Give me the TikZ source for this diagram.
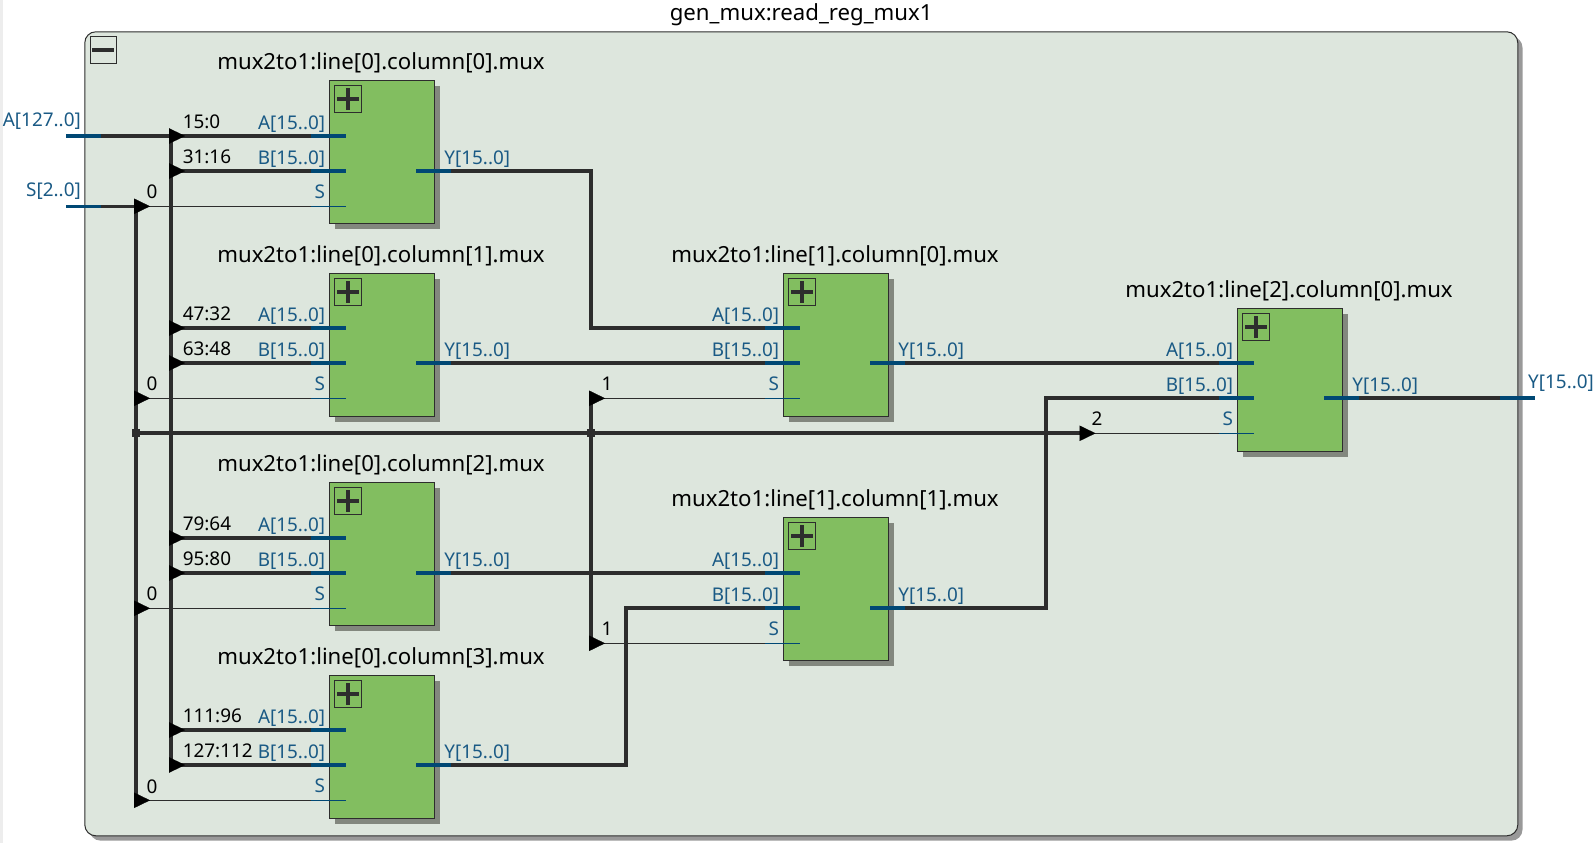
\documentclass[tikz,border=0pt]{standalone}
\usepackage{fontspec}
\setmainfont{Noto Sans}
\usetikzlibrary{arrows.meta}
\definecolor{framefill}{HTML}{DDE6DD}
\definecolor{frameshade}{HTML}{999999}
\definecolor{boxfill}{HTML}{82BE60}
\definecolor{boxshade}{HTML}{82877E}
\definecolor{wirecol}{HTML}{2D2D2D}
\definecolor{portcol}{HTML}{004874}
\definecolor{labelcol}{HTML}{1A5A85}
\begin{document}
\begin{tikzpicture}[x=1pt,y=-1pt,>=stealth]
 \tikzstyle{frameshape} = [draw=wirecol,line width=1pt,fill=framefill,rounded corners=11pt,minimum width=1433pt,minimum height=804pt,anchor=north west,inner sep=0]
 \tikzstyle{frameshadow} = [frameshape,draw=none,fill=frameshade,outer sep=0]
 \tikzstyle{muxbody} = [draw=wirecol,line width=1pt,fill=boxfill,minimum width=104.4pt,minimum height=142.4pt,anchor=north west,inner sep=0]
 \tikzstyle{muxshadow} = [muxbody,draw=none,fill=boxshade,minimum width=105.4pt,minimum height=143.4pt,outer sep=0]
 \tikzstyle{iconbox} = [draw=wirecol,line width=1pt,minimum size=26.4pt,anchor=north west,inner sep=0]
 \tikzstyle{iconbar} = [draw=wirecol,line width=4pt]
 \tikzstyle{bus} = [draw=wirecol,line width=3.6pt]
 \tikzstyle{sig} = [draw=wirecol,line width=1pt]
 \tikzstyle{busstub} = [draw=portcol,line width=3.6pt]
 \tikzstyle{sigstub} = [draw=portcol,line width=1pt]
 \tikzstyle{tap} = [draw=black,line width=0.2pt,-{Triangle[length=16pt,width=15.5pt,fill=black]}]
 \tikzstyle{junction} = [fill=wirecol,minimum size=8pt,inner sep=0]
 \tikzstyle{blocktitle} = [text=black,font=\fontsize{22.2}{26}\selectfont,anchor=base,inner sep=0]
 \tikzstyle{portleft} = [text=labelcol,font=\fontsize{18.9}{22}\selectfont,anchor=base east,inner sep=0]
 \tikzstyle{portright} = [text=labelcol,font=\fontsize{18.9}{22}\selectfont,anchor=base west,inner sep=0]
 \tikzstyle{bitrange} = [text=black,font=\fontsize{18.9}{22}\selectfont,anchor=base west,inner sep=0]
 % name, left, top, y of port A, title
 \newcommand{\muxblock}[5]{
  \node[muxshadow] (#1-sh) at (#2+5.3,#3+5.3) {};
  \node[muxbody] (#1) at (#2,#3) {};
  \node[iconbox] (#1-ic) at (#2+5,#3+5) {};
  \draw[iconbar] (#2+7.7,#3+18.7) -- (#2+29.7,#3+18.7);
  \draw[iconbar] (#2+18.7,#3+7.7) -- (#2+18.7,#3+29.7);
  \node[blocktitle] (#1-t) at (#2+51.7,#3-10.9) {mux2to1:#5.mux};
  % Ports
  \coordinate (#1-A) at (#2-18,#4);
  \coordinate (#1-B) at (#2-18,#4+35);
  \coordinate (#1-S) at (#2-18,#4+70.3);
  \coordinate (#1-Y) at (#2+121.6,#4+35);
  \node[portleft] (#1-Al) at (#2-4,#4-6.6) {A[15..0]};
  \node[portleft] (#1-Bl) at (#2-4,#4+28.4) {B[15..0]};
  \node[portleft] (#1-Sl) at (#2-4,#4+62) {S};
  \node[portright] (#1-Yl) at (#2+114.9,#4+28.4) {Y[15..0]};
 }
 \newcommand{\muxstubs}[1]{
  \draw[busstub] (#1-A) -- ++(35,0);
  \draw[busstub] (#1-B) -- ++(35,0);
  \draw[sigstub] (#1-S) -- ++(35,0);
  \draw[busstub] (#1-Y) -- ++(-35,0);
 }

 \useasboundingbox (0,0) rectangle (1596,843);
 \fill[black!7] (0,0) rectangle (3,843);
 \node[frameshadow] (frame-sh) at (89.5,36.6) {};
 \node[frameshape] (frame) at (84.3,31.3) {};
 \node[iconbox] (frame-ic) at (89.5,36.3) {};
 \draw[iconbar] (92.2,50) -- (114.2,50);
 \node[blocktitle] (frame-t) at (801.2,20.5) {gen\_mux:read\_reg\_mux1};

 \muxblock{lzcz}{329.3}{80.3}{136}{line[0].column[0]}
 \muxblock{lzco}{329.3}{273.3}{328}{line[0].column[1]}
 \muxblock{lzct}{329.3}{482.3}{538}{line[0].column[2]}
 \muxblock{lzcd}{329.3}{675.3}{730}{line[0].column[3]}
 \muxblock{locz}{783.3}{273.3}{328}{line[1].column[0]}
 \muxblock{loco}{783.3}{517.3}{573}{line[1].column[1]}
 \muxblock{ltcz}{1237.3}{308.3}{363}{line[2].column[0]}

 % Top level pins
 \coordinate (inA) at (66,136);
 \coordinate (inS) at (66,206.3);
 \coordinate (outY) at (1500,398);
 \coordinate (busA) at (171,136);
 \coordinate (busS) at (136,206.3);
 \coordinate (selbus) at (136,433);
 \coordinate (selo) at (591,433);
 \coordinate (selt) at (1079.5,433);
 \coordinate (bendz) at (591,171);
 \coordinate (bendo) at (626,608);
 \coordinate (bendt) at (1046,398);

 % Data buses
 \draw[bus] (inA) -- (lzcz-A);
 \draw[bus] (busA) -- (busA |- lzcd-B);
 \draw[bus] (busA |- lzcz-B) -- (lzcz-B);
 \draw[bus] (busA |- lzco-A) -- (lzco-A);
 \draw[bus] (busA |- lzco-B) -- (lzco-B);
 \draw[bus] (busA |- lzct-A) -- (lzct-A);
 \draw[bus] (busA |- lzct-B) -- (lzct-B);
 \draw[bus] (busA |- lzcd-A) -- (lzcd-A);
 \draw[bus] (busA |- lzcd-B) -- (lzcd-B);
 \draw[bus] (lzcz-Y) -| (bendz |- locz-A) -- (locz-A);
 \draw[bus] (lzco-Y) -- (locz-B);
 \draw[bus] (locz-Y) -- (ltcz-A);
 \draw[bus] (lzct-Y) -- (loco-A);
 \draw[bus] (lzcd-Y) -| (bendo |- loco-B) -- (loco-B);
 \draw[bus] (loco-Y) -| (bendt |- ltcz-B) -- (ltcz-B);
 \draw[bus] (ltcz-Y) -- (outY);

 % Select lines
 \draw[bus] (inS) -- (busS);
 \draw[bus] (busS) -- (busS |- lzcd-S);
 \draw[bus] (selbus) -- (selt);
 \draw[bus] (selo |- locz-S) -- (selo |- loco-S);
 \draw[sig] (busS |- lzcz-S) -- (lzcz-S);
 \draw[sig] (busS |- lzco-S) -- (lzco-S);
 \draw[sig] (busS |- lzct-S) -- (lzct-S);
 \draw[sig] (busS |- lzcd-S) -- (lzcd-S);
 \draw[sig] (selo |- locz-S) -- (locz-S);
 \draw[sig] (selo |- loco-S) -- (loco-S);
 \draw[sig] (selt |- ltcz-S) -- (ltcz-S);
 \node[junction] (jz) at (selbus) {};
 \node[junction] (jo) at (selo) {};

 % Port stubs
 \muxstubs{lzcz}
 \muxstubs{lzco}
 \muxstubs{lzct}
 \muxstubs{lzcd}
 \muxstubs{locz}
 \muxstubs{loco}
 \muxstubs{ltcz}
 \draw[busstub] (inA) -- ++(35,0);
 \draw[busstub] (inS) -- ++(35,0);
 \draw[busstub] (outY) -- ++(35,0);

 % Taps
 \draw[tap] ([xshift=-2pt]busA |- lzcz-A) -- ++(16,0);
 \draw[tap] ([xshift=-2pt]busA |- lzcz-B) -- ++(16,0);
 \draw[tap] ([xshift=-2pt]busA |- lzco-A) -- ++(16,0);
 \draw[tap] ([xshift=-2pt]busA |- lzco-B) -- ++(16,0);
 \draw[tap] ([xshift=-2pt]busA |- lzct-A) -- ++(16,0);
 \draw[tap] ([xshift=-2pt]busA |- lzct-B) -- ++(16,0);
 \draw[tap] ([xshift=-2pt]busA |- lzcd-A) -- ++(16,0);
 \draw[tap] ([xshift=-2pt]busA |- lzcd-B) -- ++(16,0);
 \draw[tap] ([xshift=-2pt]busS |- lzcz-S) -- ++(16,0);
 \draw[tap] ([xshift=-2pt]busS |- lzco-S) -- ++(16,0);
 \draw[tap] ([xshift=-2pt]busS |- lzct-S) -- ++(16,0);
 \draw[tap] ([xshift=-2pt]busS |- lzcd-S) -- ++(16,0);
 \draw[tap] ([xshift=-2pt]selo |- locz-S) -- ++(16,0);
 \draw[tap] ([xshift=-2pt]selo |- loco-S) -- ++(16,0);
 \draw[tap] (selt |- ltcz-S) -- ++(16,0);

 % Labels
 \node[portleft] (inAl) at (81,126.7) {A[127..0]};
 \node[portleft] (inSl) at (81,196.7) {S[2..0]};
 \node[portright] (outYl) at (1528,388.3) {Y[15..0]};
 \node[bitrange] (r0) at (182.6,128.3) {15:0};
 \node[bitrange] (r1) at (182.6,163.3) {31:16};
 \node[bitrange] (r2) at (182.6,320.8) {47:32};
 \node[bitrange] (r3) at (182.6,355.8) {63:48};
 \node[bitrange] (r4) at (182.6,530.5) {79:64};
 \node[bitrange] (r5) at (182.6,565.5) {95:80};
 \node[bitrange] (r6) at (182.6,722.8) {111:96};
 \node[bitrange] (r7) at (182.6,757.8) {127:112};
 \node[bitrange] (s0) at (146.3,198.3) {0};
 \node[bitrange] (s1) at (146.3,390.3) {0};
 \node[bitrange] (s2) at (146.3,600.3) {0};
 \node[bitrange] (s3) at (146.3,793) {0};
 \node[bitrange] (s4) at (601.4,390.3) {1};
 \node[bitrange] (s5) at (601.4,635.3) {1};
 \node[bitrange] (s6) at (1091.5,425.3) {2};
\end{tikzpicture}
\end{document}
